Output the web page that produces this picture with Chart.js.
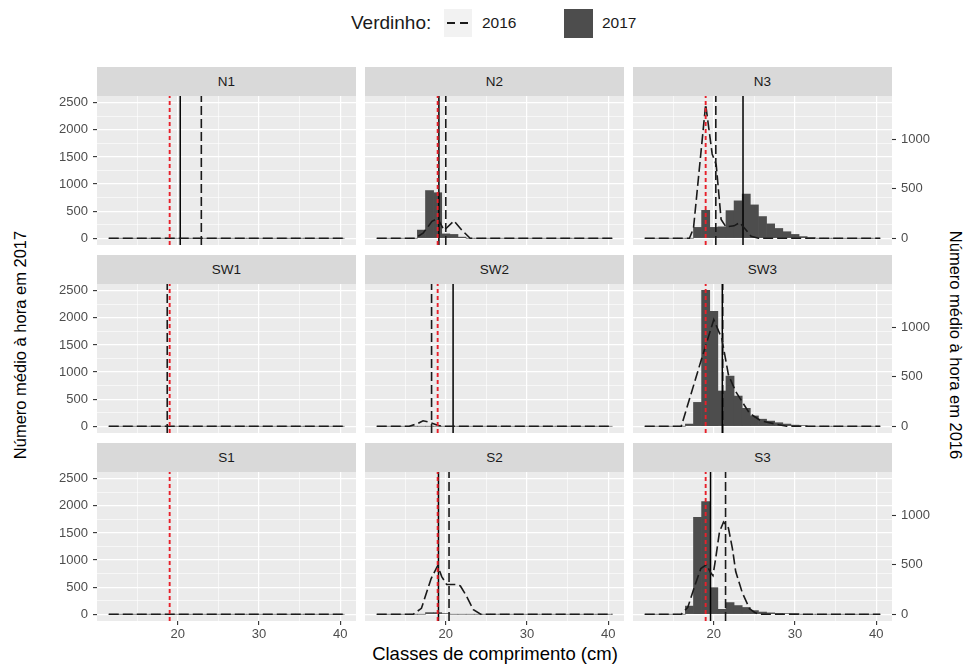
<!DOCTYPE html>
<html>
<head>
<meta charset="utf-8">
<script src="https://cdn.jsdelivr.net/npm/chart.js@4.4.1/dist/chart.umd.min.js"></script>
<style>
  body { margin: 0; background: #fff; }
  #wrap { position: relative; width: 976px; height: 665px; overflow: hidden; background: #fff;
          font-family: "Liberation Sans", Arial, sans-serif; }
  .strip { position: absolute; background: #D9D9D9; color: #1A1A1A; font-size: 13.5px; text-align: center; }
  canvas { position: absolute; }
  .txt { position: absolute; white-space: nowrap; color: #000; }
</style>
</head>
<body>
<div id="wrap"></div>
<script>
// ---------------- DATA ----------------
const panelNames = ['N1', 'N2', 'N3', 'SW1', 'SW2', 'SW3', 'S1', 'S2', 'S3'];

// 2017 length classes (cm) – histogram bins
const bins2017 = [12,13,14,15,16,17,18,19,20,21,22,23,24,25,26,27,28,29,30,31,32,33,34,35,36,37,38,39,40];

// 2017 mean number per hour in each class (left axis)
const n2017_N1  = [0,0,0,0,0,0,0,0,0,0,0,0,0,0,0,0,0,0,0,0,0,0,0,0,0,0,0,0,0];
const n2017_N2  = [0,0,0,0,0,150,880,840,80,70,20,0,0,0,0,0,0,0,0,0,0,0,0,0,0,0,0,0,0];
const n2017_N3  = [0,0,0,0,0,0,200,515,200,210,510,690,815,615,400,265,180,120,70,30,10,0,0,0,0,0,0,0,0];
const n2017_SW1 = [0,0,0,0,0,0,0,0,0,0,0,0,0,0,0,0,0,0,0,0,0,0,0,0,0,0,0,0,0];
const n2017_SW2 = [0,0,0,0,0,0,0,0,0,0,0,0,0,0,0,0,0,0,0,0,0,0,0,0,0,0,0,0,0];
const n2017_SW3 = [0,0,0,0,0,40,440,2510,2120,650,925,557,330,190,130,95,65,40,20,10,0,0,0,0,0,0,0,0,0];
const n2017_S1  = [0,0,0,0,0,0,0,0,0,0,0,0,0,0,0,0,0,0,0,0,0,0,0,0,0,0,0,0,0];
const n2017_S2  = [0,0,0,0,0,0,30,30,10,0,0,0,0,0,0,0,0,0,0,0,0,0,0,0,0,0,0,0,0];
const n2017_S3  = [0,0,0,0,0,150,1790,2080,490,90,215,160,125,67,40,25,15,10,5,0,0,0,0,0,0,0,0,0,0];

// 2016 frequency polygons (right axis): lengths and mean number per hour
const len2016_N1  = [11.5, 40.5];
const n2016_N1    = [0, 0];
const len2016_N2  = [11.5, 16.2, 17.2, 18.3, 19, 19.8, 21, 22, 23, 40.5];
const n2016_N2    = [0, 0, 50, 170, 200, 80, 175, 80, 0, 0];
const len2016_N3  = [11.5, 17, 17.5, 19, 19.8, 20.3, 20.9, 21.5, 22.5, 23.2, 24, 24.6, 25.5, 40.5];
const n2016_N3    = [0, 0, 100, 1350, 850, 740, 190, 115, 125, 158, 80, 20, 0, 0];
const len2016_SW1 = [11.5, 40.5];
const n2016_SW1   = [0, 0];
const len2016_SW2 = [11.5, 15.5, 16.5, 17.2, 18, 19, 19.5, 40.5];
const n2016_SW2   = [0, 0, 25, 55, 40, 10, 0, 0];
const len2016_SW3 = [11.5, 16, 18.5, 20, 21, 21.8, 22.7, 24.4, 25.8, 28, 29, 40.5];
const n2016_SW3   = [0, 0, 680, 1075, 880, 520, 350, 130, 55, 15, 0, 0];
const len2016_S1  = [11.5, 40.5];
const n2016_S1    = [0, 0];
const len2016_S2  = [11.5, 16, 17, 18.2, 19, 19.5, 20.1, 21.2, 21.8, 22.5, 23.4, 24.3, 40.5];
const n2016_S2    = [0, 0, 60, 360, 490, 380, 300, 300, 285, 190, 45, 0, 0];
const len2016_S3  = [11.5, 16, 16.8, 17.8, 18.4, 19.1, 19.6, 19.9, 20.3, 20.7, 21.2, 21.8, 22.3, 22.7, 23.5, 24.4, 25, 25.5, 40.5];
const n2016_S3    = [0, 0, 70, 320, 460, 500, 420, 390, 600, 830, 930, 870, 660, 430, 220, 55, 20, 0, 0];

// vertical reference lines (cm)
const mean2017 = [20.3, 19.15, 23.6, null, 20.9, 21.05, null, 19.1, 19.6];   // solid
const mean2016 = [22.9, 20.0, 20.25, 18.7, 18.25, 21.1, null, 20.4, 21.45];  // dashed
const refLength = [19, 19, 19, 19, 19, 19, 19, 19, 19];                       // red dotted

// ticks
const xTicks = [15, 20, 25, 30, 35, 40];
const xLabels = [20, 30, 40];
const yTicks = [0, 250, 500, 750, 1000, 1250, 1500, 1750, 2000, 2250, 2500];
const yLabels = [0, 500, 1000, 1500, 2000, 2500];
const y2Ticks = [0, 500, 1000];

// axis limits
const X_MIN = 10.05, X_MAX = 41.95;
const Y_MIN = -125, Y_MAX = 2625;
const SEC_RATIO = 1.83; // left units per right unit

const n2017 = [n2017_N1, n2017_N2, n2017_N3, n2017_SW1, n2017_SW2, n2017_SW3, n2017_S1, n2017_S2, n2017_S3];
const len2016 = [len2016_N1, len2016_N2, len2016_N3, len2016_SW1, len2016_SW2, len2016_SW3, len2016_S1, len2016_S2, len2016_S3];
const n2016 = [n2016_N1, n2016_N2, n2016_N3, n2016_SW1, n2016_SW2, n2016_SW3, n2016_S1, n2016_S2, n2016_S3];

// ---------------- LAYOUT ----------------
const FONT = '"Liberation Sans", Arial, sans-serif';
const colLeft = [97, 365, 633];
const rowTop = [96, 284, 472];
const PW = 259, PH = 149, STRIP = 29;
const LEFT_AX = 60, RIGHT_AX = 50, BOTTOM_AX = 24;

const wrap = document.getElementById('wrap');

function addText(txt, css) {
  const d = document.createElement('div');
  d.className = 'txt';
  d.textContent = txt;
  Object.assign(d.style, css);
  wrap.appendChild(d);
  return d;
}

// legend
addText('Verdinho:', { left: '351px', top: '12px', fontSize: '19px', lineHeight: '22px', color: '#1A1A1A' });
const k1 = document.createElement('div');
Object.assign(k1.style, { position: 'absolute', left: '444px', top: '9px', width: '28px', height: '28px', background: '#F2F2F2' });
wrap.appendChild(k1);
[3, 16].forEach(l => {
  const d = document.createElement('div');
  Object.assign(d.style, { position: 'absolute', left: l + 'px', top: '13px', width: '8px', height: '1.6px', background: '#1A1A1A' });
  k1.appendChild(d);
});
addText('2016', { left: '482px', top: '13px', fontSize: '15.5px', lineHeight: '20px', color: '#1A1A1A' });
const k2 = document.createElement('div');
Object.assign(k2.style, { position: 'absolute', left: '564px', top: '9px', width: '29px', height: '29px', background: '#4D4D4D' });
wrap.appendChild(k2);
addText('2017', { left: '602px', top: '13px', fontSize: '15.5px', lineHeight: '20px', color: '#1A1A1A' });

// axis titles
addText('Classes de comprimento (cm)', { left: '295px', width: '400px', textAlign: 'center', top: '643px', fontSize: '18.5px', lineHeight: '22px' });
addText('Número médio à hora em 2017', { left: '-180px', width: '400px', textAlign: 'center', top: '334px', fontSize: '16.5px', lineHeight: '22px', transform: 'rotate(-90deg)' });
addText('Número médio à hora em 2016', { left: '756px', width: '400px', textAlign: 'center', top: '334px', fontSize: '16.5px', lineHeight: '22px', transform: 'rotate(90deg)' });

const bgPlugin = {
  id: 'panelBg',
  beforeDraw(chart) {
    const { ctx, chartArea: a } = chart;
    ctx.save();
    ctx.fillStyle = '#EBEBEB';
    ctx.fillRect(a.left, a.top, a.right - a.left, a.bottom - a.top);
    ctx.restore();
  }
};

function noPad(s) { s.paddingTop = 0; s.paddingBottom = 0; s.paddingLeft = 0; s.paddingRight = 0; }

function vline(v, color, dash, width, order) {
  return {
    type: 'line', data: [{ x: v, y: Y_MIN }, { x: v, y: Y_MAX }], yAxisID: 'y', xAxisID: 'x',
    borderColor: color, borderDash: dash, borderWidth: width, pointRadius: 0, fill: false, order: order
  };
}

panelNames.forEach((name, i) => {
  const r = Math.floor(i / 3), c = i % 3;
  const L = c === 0 ? LEFT_AX : 0, R = c === 2 ? RIGHT_AX : 0, B = r === 2 ? BOTTOM_AX : 0;

  const strip = document.createElement('div');
  strip.className = 'strip';
  Object.assign(strip.style, { left: colLeft[c] + 'px', top: (rowTop[r] - STRIP) + 'px', width: PW + 'px', height: STRIP + 'px', lineHeight: STRIP + 'px' });
  strip.textContent = name;
  wrap.appendChild(strip);

  const cv = document.createElement('canvas');
  cv.width = PW + L + R; cv.height = PH + B;
  Object.assign(cv.style, { left: (colLeft[c] - L) + 'px', top: rowTop[r] + 'px', width: (PW + L + R) + 'px', height: (PH + B) + 'px' });
  wrap.appendChild(cv);

  const datasets = [];
  datasets.push({
    type: 'bar', data: bins2017.map((x, k) => ({ x: x, y: n2017[i][k] })), yAxisID: 'y', xAxisID: 'x',
    backgroundColor: '#4D4D4D', borderWidth: 0, barPercentage: 1, categoryPercentage: 1, order: 6
  });
  if (mean2016[i] !== null) datasets.push(vline(mean2016[i], '#1A1A1A', [9, 4], 1.6, 5));
  if (mean2017[i] !== null) datasets.push(vline(mean2017[i], '#000000', [], 1.5, 4));
  datasets.push({
    type: 'line', data: len2016[i].map((x, k) => ({ x: x, y: n2016[i][k] })), yAxisID: 'y2', xAxisID: 'x',
    borderColor: '#1A1A1A', borderWidth: 1.6, borderDash: [10, 4], pointRadius: 0, fill: false, tension: 0, order: 3
  });
  datasets.push(vline(refLength[i], '#E8202A', [4, 3], 1.9, 1));

  const isMajorX = v => xLabels.includes(v);
  const isMajorY = v => yLabels.includes(v);

  new Chart(cv, {
    type: 'bar',
    data: { datasets },
    plugins: [bgPlugin],
    options: {
      responsive: false, animation: false, devicePixelRatio: 1,
      layout: { padding: 0, autoPadding: false },
      plugins: { legend: { display: false }, tooltip: { enabled: false } },
      scales: {
        x: {
          type: 'linear', position: 'bottom', min: X_MIN, max: X_MAX, offset: false,
          afterBuildTicks: s => { s.ticks = xTicks.map(v => ({ value: v })); },
          afterFit: s => { s.height = B; noPad(s); },
          border: { display: false },
          grid: {
            offset: false, color: '#FFFFFF',
            lineWidth: ctx => (ctx.tick && isMajorX(ctx.tick.value)) ? 1.2 : 0.6,
            drawTicks: r === 2, tickLength: 4,
            tickColor: ctx => (ctx.tick && isMajorX(ctx.tick.value)) ? '#333333' : 'rgba(0,0,0,0)',
            tickWidth: 1.1
          },
          ticks: {
            display: r === 2, autoSkip: false, maxRotation: 0, padding: 2, color: '#4D4D4D',
            font: { family: FONT, size: 13 },
            callback: v => isMajorX(v) ? String(v) : ''
          }
        },
        y: {
          type: 'linear', position: 'left', min: Y_MIN, max: Y_MAX,
          afterBuildTicks: s => { s.ticks = yTicks.map(v => ({ value: v })); },
          afterFit: s => { s.width = L; noPad(s); },
          border: { display: false },
          grid: {
            color: '#FFFFFF',
            lineWidth: ctx => (ctx.tick && isMajorY(ctx.tick.value)) ? 1.2 : 0.6,
            drawTicks: c === 0, tickLength: 4,
            tickColor: ctx => (ctx.tick && isMajorY(ctx.tick.value)) ? '#333333' : 'rgba(0,0,0,0)',
            tickWidth: 1.1
          },
          ticks: {
            display: c === 0, autoSkip: false, padding: 5, color: '#4D4D4D',
            font: { family: FONT, size: 13 },
            callback: v => isMajorY(v) ? String(v) : ''
          }
        },
        y2: {
          type: 'linear', position: 'right', min: Y_MIN / SEC_RATIO, max: Y_MAX / SEC_RATIO,
          afterBuildTicks: s => { s.ticks = y2Ticks.map(v => ({ value: v })); },
          afterFit: s => { s.width = R; noPad(s); },
          border: { display: false },
          grid: { display: c === 2, drawOnChartArea: false, drawTicks: true, tickLength: 4, tickColor: '#333333', tickWidth: 1.1 },
          ticks: {
            display: c === 2, autoSkip: false, padding: 5, color: '#4D4D4D',
            font: { family: FONT, size: 13 },
            callback: v => String(v)
          }
        }
      }
    }
  });
});
</script>
</body>
</html>
